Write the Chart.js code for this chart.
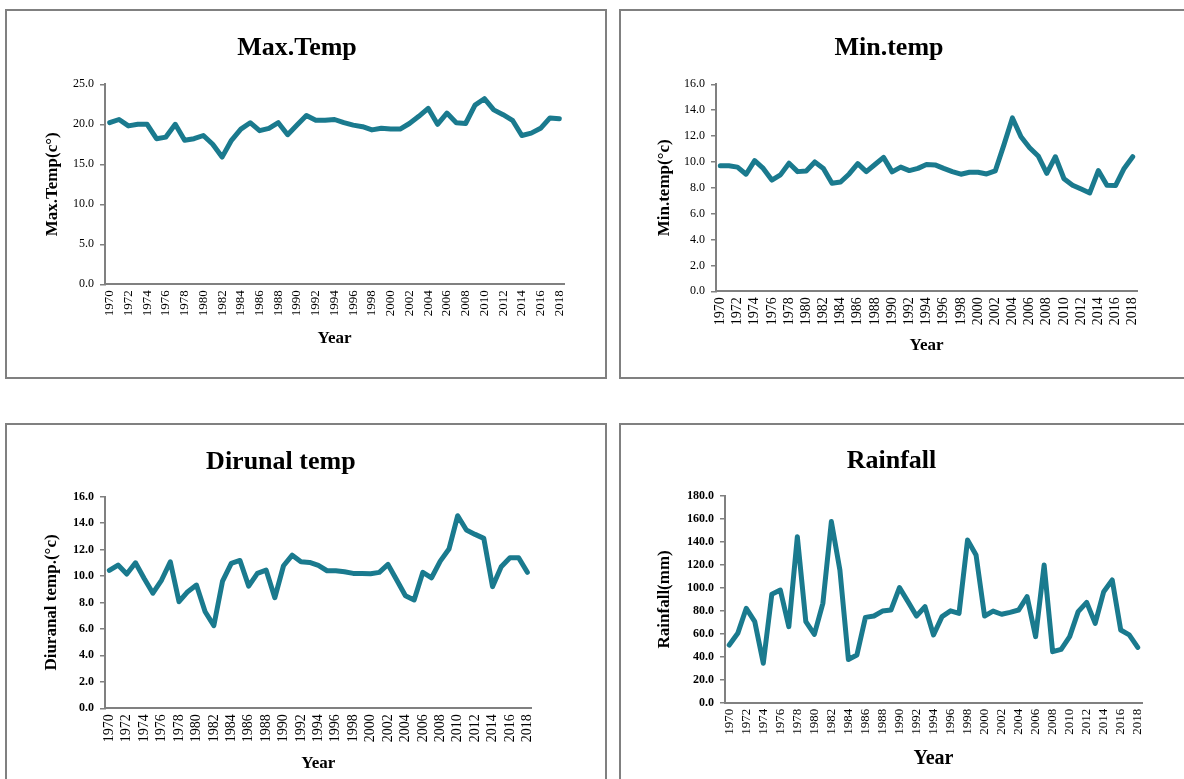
<!DOCTYPE html>
<html>
<head>
<meta charset="utf-8">
<script src="https://cdn.jsdelivr.net/npm/chart.js@4"></script>
<style>
  body { margin: 0; background: #fff; width: 1184px; height: 779px; overflow: hidden; position: relative; }
  .box { position: absolute; border: 2px solid #808080; background: #fff; }
  canvas { display: block; }
</style>
</head>
<body>
<div class="box" style="left:5px;top:9px;width:598px;height:366px"><canvas id="maxTemp" width="598" height="366"></canvas></div>
<div class="box" style="left:619px;top:9px;width:600px;height:366px"><canvas id="minTemp" width="563" height="366"></canvas></div>
<div class="box" style="left:5px;top:423px;width:598px;height:400px"><canvas id="diurnal" width="598" height="354"></canvas></div>
<div class="box" style="left:619px;top:423px;width:600px;height:400px"><canvas id="rainfall" width="563" height="354"></canvas></div>
<script>
const years = ['1970','1971','1972','1973','1974','1975','1976','1977','1978','1979',
  '1980','1981','1982','1983','1984','1985','1986','1987','1988','1989',
  '1990','1991','1992','1993','1994','1995','1996','1997','1998','1999',
  '2000','2001','2002','2003','2004','2005','2006','2007','2008','2009',
  '2010','2011','2012','2013','2014','2015','2016','2017','2018'];

const maxTemp = [20.2, 20.6, 19.8, 20.0, 20.0, 18.2, 18.4, 20.0, 18.0, 18.2,
  18.6, 17.5, 15.9, 18.0, 19.4, 20.2, 19.2, 19.5, 20.2, 18.7,
  19.9, 21.1, 20.5, 20.5, 20.6, 20.2, 19.9, 19.7, 19.3, 19.5,
  19.4, 19.4, 20.1, 21.0, 22.0, 20.0, 21.4, 20.2, 20.1, 22.4,
  23.2, 21.8, 21.2, 20.5, 18.6, 18.9, 19.5, 20.8, 20.7];

const minTemp = [9.7, 9.7, 9.6, 9.05, 10.1, 9.5, 8.6, 9.0, 9.9, 9.25,
  9.3, 10.0, 9.5, 8.35, 8.45, 9.07, 9.87, 9.25, 9.8, 10.35,
  9.23, 9.6, 9.33, 9.5, 9.8, 9.77, 9.5, 9.25, 9.05, 9.2,
  9.2, 9.07, 9.3, 11.3, 13.4, 11.95, 11.1, 10.46, 9.12, 10.4,
  8.7, 8.2, 7.9, 7.6, 9.33, 8.2, 8.17, 9.5, 10.4];

const diurnal = [10.43, 10.83, 10.15, 11.0, 9.82, 8.7, 9.7, 11.08, 8.06, 8.82,
  9.32, 7.3, 6.25, 9.62, 10.96, 11.18, 9.24, 10.2, 10.45, 8.36,
  10.78, 11.58, 11.08, 11.03, 10.8, 10.4, 10.4, 10.33, 10.2, 10.2,
  10.18, 10.28, 10.88, 9.7, 8.51, 8.19, 10.28, 9.87, 11.13, 12.04,
  14.56, 13.48, 13.15, 12.85, 9.2, 10.7, 11.39, 11.39, 10.28];

const rainfall = [50.2, 60.4, 82.2, 70.6, 34.3, 94.4, 98.1, 66.2, 144.6, 70.6,
  59.5, 86.5, 157.7, 115.6, 37.7, 41.5, 74.3, 75.5, 79.8, 80.7,
  100.2, 88.0, 75.5, 83.6, 59.0, 75.0, 80.0, 77.8, 141.7, 128.6,
  75.5, 79.8, 77.0, 78.7, 80.7, 92.3, 57.5, 119.9, 44.4, 46.5,
  57.5, 79.3, 87.4, 69.1, 96.7, 106.9, 63.3, 59.0, 48.2];

const lineColor = '#1a7a8e';
const axisColor = '#808080';
const serif = '"Liberation Serif", "Times New Roman", serif';

function makeChart(id, o) {
  new Chart(document.getElementById(id), {
    type: 'line',
    data: {
      labels: years,
      datasets: [{
        data: o.values,
        borderColor: lineColor,
        borderWidth: 5,
        pointRadius: 0,
        tension: 0,
        borderJoinStyle: 'round',
        borderCapStyle: 'round',
        fill: false
      }]
    },
    options: {
      responsive: false,
      devicePixelRatio: 1,
      animation: false,
      layout: { padding: { left: o.padL, right: o.padR, top: 0, bottom: 0 } },
      plugins: {
        legend: { display: false },
        tooltip: { enabled: false },
        title: {
          display: true,
          text: o.title,
          color: '#000',
          font: { family: serif, size: 26, weight: 'bold', lineHeight: 1.2 },
          padding: { top: o.titleTop, bottom: o.titleBottom }
        }
      },
      scales: {
        x: {
          offset: true,
          grid: { display: false, drawTicks: false },
          border: { display: true, color: axisColor, width: 2 },
          ticks: {
            autoSkip: false,
            minRotation: 90,
            maxRotation: 90,
            padding: 6,
            color: '#000',
            font: { family: serif, size: o.xTickSize },
            callback: (v, i) => (i % 2 === 0 ? years[i] : '')
          },
          title: {
            display: true,
            text: 'Year',
            color: '#000',
            font: { family: serif, size: o.xTitleSize, weight: 'bold', lineHeight: 1.2 },
            padding: { top: 0, bottom: o.xTitleBottom }
          },
          afterFit: (s) => { s.height = o.xHeight; s.paddingLeft = 0; s.paddingRight = 0; }
        },
        y: {
          min: 0,
          max: o.yMax,
          grid: { display: true, drawOnChartArea: false, drawTicks: true, tickLength: 5, color: axisColor, lineWidth: 1.5 },
          border: { display: true, color: axisColor, width: 2 },
          ticks: {
            stepSize: o.yStep,
            padding: 6,
            color: '#000',
            font: { family: serif, size: 12, weight: o.yTickBold ? 'bold' : 'normal' },
            callback: (v) => v.toFixed(1)
          },
          title: {
            display: true,
            text: o.yTitle,
            color: '#000',
            font: { family: serif, size: 17, weight: 'bold', lineHeight: 1.2 },
            padding: { top: o.yTitleTop, bottom: 0 }
          },
          afterFit: (s) => { s.width = o.yWidth; s.paddingTop = 0; s.paddingBottom = 0; }
        }
      }
    }
  });
}

makeChart('maxTemp', {
  values: maxTemp, title: 'Max.Temp', yTitle: 'Max.Temp(c\u00b0)',
  yMax: 25, yStep: 5, yTickBold: false,
  padL: 23, padR: 41, yWidth: 75, yTitleTop: 12.8,
  titleTop: 21.4, titleBottom: 20.7,
  xHeight: 92.7, xTitleBottom: 27.8, xTickSize: 13, xTitleSize: 17
});

makeChart('minTemp', {
  values: minTemp, title: 'Min.temp', yTitle: 'Min.temp(\u00b0c)',
  yMax: 16, yStep: 2, yTickBold: false,
  padL: 20, padR: 47, yWidth: 75, yTitleTop: 13.8,
  titleTop: 21.4, titleBottom: 20.7,
  xHeight: 85.7, xTitleBottom: 20.8, xTickSize: 14, xTitleSize: 17
});

makeChart('diurnal', {
  values: diurnal, title: 'Dirunal temp', yTitle: 'Diuranal temp.(\u00b0c)',
  yMax: 16, yStep: 2, yTickBold: true,
  padL: 23, padR: 73.3, yWidth: 75, yTitleTop: 11.8,
  titleTop: 21.4, titleBottom: 19.1,
  xHeight: 70.7, xTitleBottom: 4.8, xTickSize: 14, xTitleSize: 17
});

makeChart('rainfall', {
  values: rainfall, title: 'Rainfall', yTitle: 'Rainfall(mm)',
  yMax: 180, yStep: 20, yTickBold: true,
  padL: 20, padR: 42, yWidth: 84, yTitleTop: 13.8,
  titleTop: 20.4, titleBottom: 19.4,
  xHeight: 76.3, xTitleBottom: 8, xTickSize: 13, xTitleSize: 20
});
</script>
</body>
</html>
